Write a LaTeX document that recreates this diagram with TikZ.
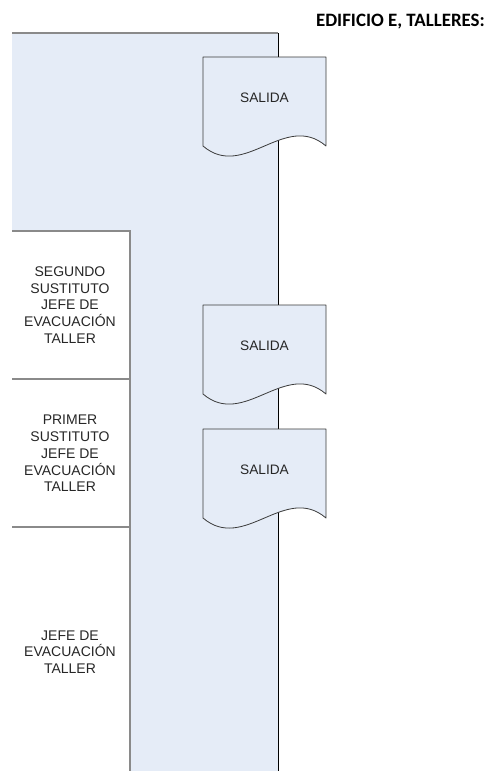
\documentclass[tikz,border=0pt]{standalone}
\usepackage{fontspec}
\setmainfont{Liberation Sans}
\newfontfamily\titlefont{Carlito}
\definecolor{zoneblue}{HTML}{E5ECF7}
\definecolor{edgegray}{HTML}{8A8A8A}
\definecolor{boxedge}{HTML}{3A3A3A}
\begin{document}
\begin{tikzpicture}[x=1pt,y=-1pt,
  grayline/.style={draw=edgegray,line width=1.3pt},
  darkline/.style={draw=black,line width=0.9pt},
  docshape/.style={fill=zoneblue,draw=boxedge,line width=0.8pt,line join=round},
  celltext/.style={align=center,font=\fontsize{14}{16.8}\selectfont,text=black!85},
  salidatext/.style={font=\fontsize{13.7}{16}\selectfont,text=black!85},
  salida/.pic={
    \path[docshape] (0,0) -- (123,0) -- (123,89)
      .. controls (82,54) and (41,124) .. (0,89) -- cycle;
    \node[salidatext] (-t) at (61.5,41) {SALIDA};
  }]
\useasboundingbox (0,0) rectangle (490,771);
% title
\node[anchor=base east,font=\titlefont\bfseries\fontsize{18.9}{22}\selectfont,inner sep=0pt] (title) at (485,26.7) {EDIFICIO E, TALLERES:};
% zone
\fill[zoneblue] (12,33) -- (278,33) -- (278,771) -- (130,771) -- (130,231) -- (12,231) -- cycle;
\draw[grayline] (12,33) -- (278,33);
\draw[grayline] (12,231) -- (130,231) -- (130,771);
\draw[grayline] (12,379) -- (130,379);
\draw[grayline] (12,527) -- (130,527);
\draw[darkline] (278,33) -- (278,771);
% cells
\node[celltext] (c1) at (70,305) {SEGUNDO\\SUSTITUTO\\JEFE DE\\EVACUACIÓN\\TALLER};
\node[celltext] (c2) at (70,453.5) {PRIMER\\SUSTITUTO\\JEFE DE\\EVACUACIÓN\\TALLER};
\node[celltext] (c3) at (70,652) {JEFE DE\\EVACUACIÓN\\TALLER};
% exits
\pic (s1) at (203,57) {salida};
\pic (s2) at (203,305) {salida};
\pic (s3) at (203,429) {salida};
\end{tikzpicture}
\end{document}
